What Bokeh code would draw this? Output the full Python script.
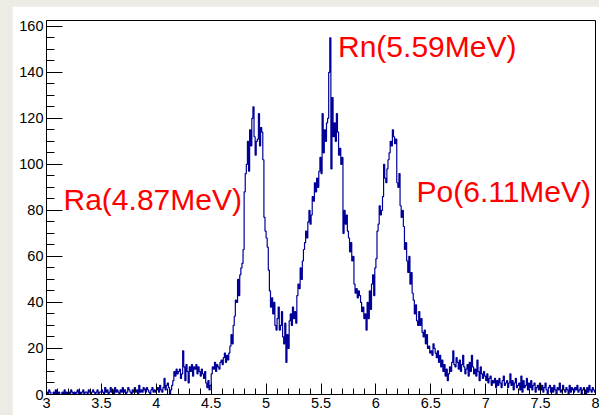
import numpy as np
from bokeh.plotting import figure
from bokeh.models import FixedTicker, Range1d, Spacer
from bokeh.layouts import row, column
from bokeh.core.properties import value
from bokeh.embed import file_html
from bokeh.resources import INLINE

# Alpha energy spectrum: 0.01 MeV bins from 3.00 to 8.00 MeV
E_MIN = 3.0
BIN_WIDTH = 0.01
counts = [
    1, 0, 2, 1, 0, 0, 1, 0, 2, 0,          # 3.0
    0, 1, 0, 0, 1, 0, 2, 0, 1, 0,          # 3.1
    1, 0, 2, 1, 0, 1, 0, 1, 2, 0,          # 3.2
    1, 0, 1, 2, 0, 1, 1, 0, 2, 1,          # 3.3
    0, 1, 2, 1, 0, 1, 2, 0, 1, 1,          # 3.4
    2, 1, 0, 3, 1, 2, 0, 1, 3, 1,          # 3.5
    2, 0, 3, 1, 2, 1, 0, 2, 1, 3,          # 3.6
    1, 2, 0, 1, 3, 2, 1, 0, 2, 1,          # 3.7
    3, 1, 2, 0, 4, 1, 2, 1, 3, 2,          # 3.8
    1, 3, 2, 1, 0, 2, 3, 1, 2, 1,          # 3.9
    2, 3, 1, 4, 2, 1, 3, 7, 2, 4,          # 4.0
    5, 3, 0, 2, 4, 6, 10, 8, 11, 9,        # 4.1
    10, 11, 7, 9, 19, 12, 6, 13, 10, 5,    # 4.2
    12, 10, 13, 8, 12, 11, 13, 9, 12, 10,  # 4.3
    8, 11, 9, 7, 10, 5, 3, 6, 2, 4,        # 4.4
    9, 12, 11, 14, 10, 13, 12, 11, 14, 15, # 4.5
    13, 16, 18, 14, 17, 15, 18, 21, 26, 22,          # 4.6
    30, 34, 41, 40, 50, 43, 52, 55, 57, 63,          # 4.7
    88, 96, 100, 110, 97, 115, 108, 120, 125, 112,   # 4.8
    104, 110, 111, 122, 108, 116, 114, 102, 77, 71,  # 4.9
    68, 64, 54, 45, 38, 42, 35, 40, 30, 28,          # 5.0
    33, 38, 28, 30, 36, 25, 22, 31, 14, 26,          # 5.1
    20, 32, 35, 30, 38, 33, 36, 31, 43, 48,          # 5.2
    46, 55, 50, 58, 63, 66, 71, 68, 75, 80,          # 5.3
    74, 78, 86, 84, 92, 88, 94, 90, 97, 103,         # 5.4
    96, 122, 105, 115, 110, 118, 120, 140, 155, 98,  # 5.5
    129, 112, 118, 110, 122, 114, 104, 107, 100, 103,  # 5.6
    70, 80, 74, 78, 71, 68, 62, 66, 58, 60,          # 5.7
    48, 44, 46, 42, 45, 43, 40, 36, 38, 33,          # 5.8
    35, 28, 40, 33, 45, 37, 48, 52, 43, 55,          # 5.9
    59, 71, 74, 82, 78, 80, 86, 100, 94, 92,         # 6.0
    98, 102, 105, 110, 108, 115, 112, 109, 111, 92,  # 6.1
    90, 96, 82, 77, 80, 73, 63, 66, 58, 53,          # 6.2
    60, 48, 53, 44, 41, 35, 39, 32, 30, 36,          # 6.3
    30, 33, 27, 25, 28, 22, 26, 20, 21, 18,          # 6.4
    19, 17, 22, 20, 18, 16, 19, 14, 17, 12,          # 6.5
    15, 10, 13, 8, 11, 6, 9, 12, 10, 14,             # 6.6
    19, 13, 12, 16, 14, 11, 15, 10, 13, 17,          # 6.7
    12, 9, 11, 13, 8, 14, 10, 17, 12, 9,             # 6.8
    11, 8, 15, 10, 6, 12, 9, 7, 10, 8,               # 6.9
    6, 9, 5, 7, 8, 4, 6, 5, 7, 3,          # 7.0
    6, 4, 7, 5, 3, 6, 8, 4, 5, 6,          # 7.1
    3, 5, 9, 4, 6, 2, 5, 7, 3, 4,          # 7.2
    5, 2, 8, 1, 6, 3, 4, 7, 2, 5,          # 7.3
    3, 6, 2, 4, 5, 1, 3, 4, 2, 5,          # 7.4
    2, 4, 1, 3, 5, 2, 0, 3, 4, 1,          # 7.5
    3, 1, 4, 2, 0, 3, 2, 5, 1, 2,          # 7.6
    4, 2, 1, 3, 2, 0, 4, 1, 3, 2,          # 7.7
    1, 3, 2, 4, 1, 2, 3, 0, 2, 3,          # 7.8
    2, 0, 3, 1, 4, 2, 1, 3, 2, 1,          # 7.9
]

# Peak annotations (text, left edge in MeV, vertical anchor in counts)
peak_labels = ["Ra(4.87MeV)", "Rn(5.59MeV)", "Po(6.11MeV)"]
label_x = [3.155, 5.655, 6.37]
label_y = [84.8, 151.2, 88.0]

x_ticks = [3, 3.5, 4, 4.5, 5, 5.5, 6, 6.5, 7, 7.5, 8]
x_tick_labels = ["3", "3.5", "4", "4.5", "5", "5.5", "6", "6.5", "7", "7.5", "8"]
y_ticks = [0, 20, 40, 60, 80, 100, 120, 140, 160]

PAGE_BG = "#EEEBE4"
LINE_COLOR = "#000099"
FONT = "Liberation Sans"

p = figure(
    width=587, height=409,
    x_range=Range1d(3, 8), y_range=Range1d(0, 162.5),
    output_backend="svg", toolbar_location=None,
    min_border_left=34, min_border_right=4,
    min_border_top=14, min_border_bottom=21,
)
p.border_fill_color = "white"
p.background_fill_color = "white"
p.outline_line_color = "black"
p.outline_line_width = 1
p.xgrid.visible = False
p.ygrid.visible = False

# Histogram outline drawn as a step line over the bin edges
edges = np.round(E_MIN + BIN_WIDTH * np.arange(len(counts) + 1), 2)
heights = list(counts) + [counts[-1]]
p.step(x=edges, y=heights, mode="after", line_color=LINE_COLOR, line_width=1.2)

p.text(
    x=label_x, y=label_y, text=peak_labels,
    text_color="#FF0000", text_font=value(FONT), text_font_size="30px",
    text_align="left", text_baseline="alphabetic",
)

# Axes: ticks point inward, ROOT style
xa = p.xaxis[0]
xa.ticker = FixedTicker(ticks=x_ticks,
                        minor_ticks=[round(3 + 0.1 * i, 1) for i in range(51)])
xa.major_label_overrides = {t: s for t, s in zip(x_ticks, x_tick_labels)}
xa.major_tick_in = 11
xa.major_tick_out = 0
xa.minor_tick_in = 6
xa.minor_tick_out = 0
xa.major_label_standoff = 3
xa.major_label_text_font = FONT
xa.major_label_text_font_size = "14.5px"
xa.major_label_text_color = "black"
xa.axis_line_color = "black"

ya = p.yaxis[0]
ya.ticker = FixedTicker(ticks=y_ticks, minor_ticks=list(range(0, 165, 5)))
ya.major_tick_in = 16
ya.major_tick_out = 0
ya.minor_tick_in = 8
ya.minor_tick_out = 0
ya.major_label_standoff = 3
ya.major_label_text_font = FONT
ya.major_label_text_font_size = "14.5px"
ya.major_label_text_color = "black"
ya.axis_line_color = "black"

page = row(
    Spacer(width=12, height=415),
    column(Spacer(width=587, height=6), p),
    styles={"background-color": PAGE_BG},
)

open("out.html", "w").write(file_html(page, INLINE))
